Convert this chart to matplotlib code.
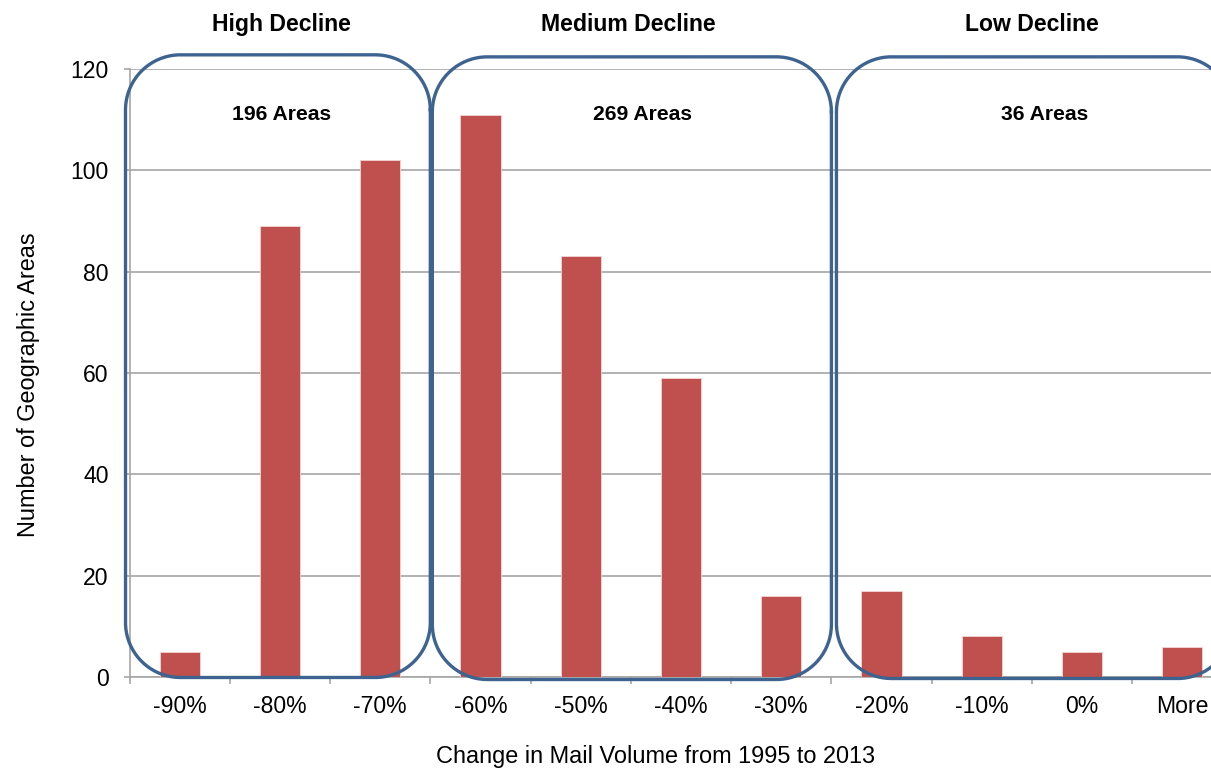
import matplotlib
matplotlib.use("Agg")
import numpy as np
import matplotlib.pyplot as plt
from matplotlib.lines import Line2D
from matplotlib.transforms import IdentityTransform

plt.rcParams['font.family'] = ['Liberation Sans', 'DejaVu Sans']

categories = ['-90%', '-80%', '-70%', '-60%', '-50%', '-40%', '-30%',
              '-20%', '-10%', '0%', 'More']
counts = [5, 89, 102, 111, 83, 59, 16, 17, 8, 5, 6]

group_names = ['High Decline', 'Medium Decline', 'Low Decline']
group_areas = ['196 Areas', '269 Areas', '36 Areas']
# group extents in category-index units (left, right)
group_spans = [(-0.54, 2.5), (2.52, 6.5), (6.55, 10.5)]
group_tops = [122.8, 122.4, 122.4]
group_bottoms = [-0.1, -0.5, -0.3]
group_title_x = [1.02, 4.47, 8.5]
group_area_x = [1.02, 4.62, 8.63]

W, H = 1211, 770
fig = plt.figure(figsize=(W / 100, H / 100), dpi=100)
ax = fig.add_axes([129.5 / W, 93 / H, 1103 / W, 608 / H])

x = list(range(len(categories)))
ax.bar(x, counts, width=0.4, color='#c0504d', edgecolor='#f2d6d5',
       linewidth=0.6, zorder=3)

ax.set_xlim(-0.5, len(categories) - 0.5)
ax.set_ylim(0, 120)
ax.set_yticks(range(0, 121, 20))
ax.yaxis.grid(True, color='#a6a6a6', linewidth=1.2, zorder=0)
ax.set_axisbelow(True)

ax.set_xticks(x)
ax.set_xticklabels(categories, fontsize=16.6)
ax.tick_params(axis='x', which='major', length=0, pad=13)
ax.set_xticks([i - 0.5 for i in range(len(categories) + 1)], minor=True)
ax.tick_params(axis='x', which='minor', length=5, color='#a6a6a6', width=1.2)
ax.tick_params(axis='y', labelsize=16.6, length=4.4, color='#a6a6a6', width=1.2, pad=10.5)

for s in ['top', 'right']:
    ax.spines[s].set_visible(False)
for s in ['left', 'bottom']:
    ax.spines[s].set_color('#a6a6a6')
    ax.spines[s].set_linewidth(1.2)

ax.set_xlabel('Change in Mail Volume from 1995 to 2013', fontsize=16.9, va='center')
ax.xaxis.set_label_coords((656 - 129.5) / 1103, (770 - 757 - 93) / 608)
ax.set_ylabel('Number of Geographic Areas', fontsize=16.9, va='center')
ax.yaxis.set_label_coords((29 - 129.5) / 1103, (770 - 385 - 93) / 608)

fig.canvas.draw()


def rounded_rect(x0, y0, x1, y1, r, n=40):
    pts = []
    corners = [(x1 - r, y1 - r, 0, 90), (x0 + r, y1 - r, 90, 180),
               (x0 + r, y0 + r, 180, 270), (x1 - r, y0 + r, 270, 360)]
    for cx, cy, a0, a1 in corners:
        t = np.radians(np.linspace(a0, a1, n))
        pts.append(np.column_stack([cx + r * np.cos(t), cy + r * np.sin(t)]))
    pts = np.vstack(pts + [pts[0][:1]])
    return pts[:, 0], pts[:, 1]


for (l, r), top, bot in zip(group_spans, group_tops, group_bottoms):
    x0, y0 = ax.transData.transform((l, bot))
    x1, y1 = ax.transData.transform((r, top))
    xs, ys = rounded_rect(x0, y0, x1, y1, 55)
    line = Line2D(xs, ys, transform=IdentityTransform(), color='#3d6391',
                  linewidth=2.4, zorder=5, clip_on=False,
                  solid_joinstyle='round')
    fig.add_artist(line)

for name, xt in zip(group_names, group_title_x):
    ax.text(xt, 1.0 + (770 - 24 - 701) / 608, name, transform=ax.get_xaxis_transform(),
            ha='center', va='center', fontsize=16.6, fontweight='bold', clip_on=False)
for lab, xt in zip(group_areas, group_area_x):
    ax.text(xt, 111.0, lab, ha='center', va='center', fontsize=15.2,
            fontweight='bold', zorder=6)

fig.savefig('out.png', dpi=100)
